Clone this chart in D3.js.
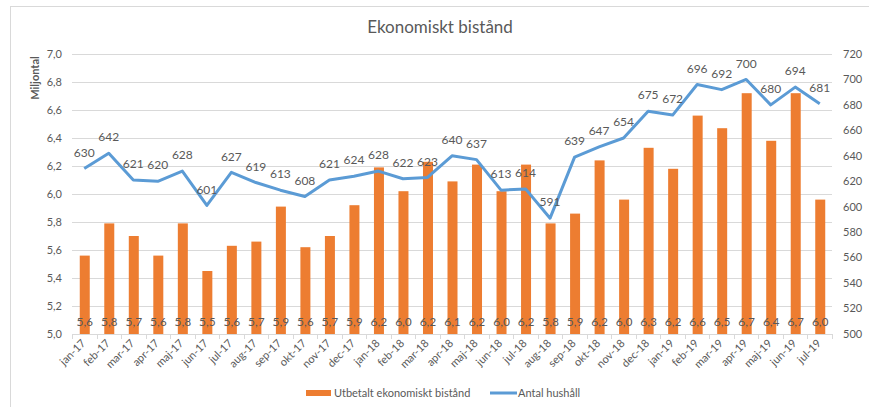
<!DOCTYPE html>
<html>
<head>
<meta charset="utf-8">
<script src="https://cdn.jsdelivr.net/npm/d3@7"></script>
<style>
  body { margin: 0; background: #fff; }
  svg { font-family: Lato, "Open Sans", sans-serif; }
</style>
</head>
<body>
<div id="chart"></div>
<script>
// months on the x axis
const months = ["jan-17","feb-17","mar-17","apr-17","maj-17","jun-17","jul-17","aug-17","sep-17","okt-17","nov-17","dec-17",
  "jan-18","feb-18","mar-18","apr-18","maj-18","jun-18","jul-18","aug-18","sep-18","okt-18","nov-18","dec-18",
  "jan-19","feb-19","mar-19","apr-19","maj-19","jun-19","jul-19"];
// Utbetalt ekonomiskt bistånd (miljontal)
const payout = [5.56,5.79,5.70,5.56,5.79,5.45,5.63,5.66,5.91,5.62,5.70,5.92,
  6.19,6.02,6.23,6.09,6.21,6.02,6.21,5.79,5.86,6.24,5.96,6.33,
  6.18,6.56,6.47,6.72,6.38,6.72,5.96];
// Antal hushåll
const households = [630,642,621,620,628,601,627,619,613,608,621,624,
  628,622,623,640,637,613,614,591,639,647,654,675,
  672,696,692,700,680,694,681];
const leftTicks = [5.0,5.2,5.4,5.6,5.8,6.0,6.2,6.4,6.6,6.8,7.0];
const rightTicks = [500,520,540,560,580,600,620,640,660,680,700,720];

const W = 869, H = 407;
const plotL = 72, plotR = 832, plotT = 54, plotB = 334;
const textCol = "#595959";
const comma = d => d.toFixed(1).replace(".", ",");

const svg = d3.select("#chart").append("svg")
  .attr("width", W).attr("height", H);

// outer frame
svg.append("rect")
  .attr("x", 10.5).attr("y", 6.5).attr("width", 900).attr("height", 500)
  .attr("fill", "none").attr("stroke", "#d9d9d9");

const x = d3.scaleBand().domain(months).range([plotL, plotR]);
const yL = d3.scaleLinear().domain([5, 7]).range([plotB, plotT]);
const yR = d3.scaleLinear().domain([500, 720]).range([plotB, plotT]);

// gridlines
svg.append("g").selectAll("line")
  .data(leftTicks.slice(1))
  .enter().append("line")
  .attr("x1", plotL).attr("x2", plotR)
  .attr("y1", d => Math.round(yL(d)) + 0.5).attr("y2", d => Math.round(yL(d)) + 0.5)
  .attr("stroke", "#d9d9d9");

// left axis labels
svg.append("g").selectAll("text")
  .data(leftTicks)
  .enter().append("text")
  .attr("x", 62).attr("y", d => yL(d)).attr("dy", "0.35em")
  .attr("text-anchor", "end").attr("font-size", 11).attr("fill", textCol)
  .text(comma);

// right axis labels
svg.append("g").selectAll("text")
  .data(rightTicks)
  .enter().append("text")
  .attr("x", 843).attr("y", d => yR(d)).attr("dy", "0.35em")
  .attr("font-size", 11).attr("fill", textCol)
  .text(d => d);

// bars
svg.append("g").selectAll("rect")
  .data(payout)
  .enter().append("rect")
  .attr("x", (d, i) => x(months[i]) + x.bandwidth() / 2 - 4.5)
  .attr("width", 10)
  .attr("y", d => yL(d))
  .attr("height", d => plotB - yL(d))
  .attr("fill", "#ed7d31");

// bar value labels
svg.append("g").selectAll("text")
  .data(payout)
  .enter().append("text")
  .attr("x", (d, i) => x(months[i]) + x.bandwidth() / 2 + 0.5)
  .attr("y", 322).attr("dy", "0.35em")
  .attr("text-anchor", "middle").attr("font-size", 12).attr("fill", textCol)
  .text(comma);

// x axis line and ticks
svg.append("line")
  .attr("x1", plotL).attr("x2", plotR)
  .attr("y1", plotB + 0.5).attr("y2", plotB + 0.5)
  .attr("stroke", "#d9d9d9");
svg.append("g").selectAll("line")
  .data(months.concat(["end"]))
  .enter().append("line")
  .attr("x1", (d, i) => Math.round(plotL + i * x.step()) + 0.5)
  .attr("x2", (d, i) => Math.round(plotL + i * x.step()) + 0.5)
  .attr("y1", plotB).attr("y2", plotB + 5)
  .attr("stroke", "#d9d9d9");

svg.append("g").selectAll("text")
  .data(months)
  .enter().append("text")
  .attr("transform", d => "translate(" + (x(d) + x.bandwidth() / 2 + 2) + "," + (plotB + 10) + ") rotate(-45)")
  .attr("text-anchor", "end").attr("font-size", 11).attr("fill", textCol)
  .text(d => d);

// households line
const line = d3.line()
  .x((d, i) => x(months[i]) + x.bandwidth() / 2)
  .y(d => yR(d));
svg.append("path")
  .datum(households)
  .attr("d", line)
  .attr("fill", "none").attr("stroke", "#5b9bd5")
  .attr("stroke-width", 3).attr("stroke-linejoin", "round");

svg.append("g").selectAll("text")
  .data(households)
  .enter().append("text")
  .attr("x", (d, i) => x(months[i]) + x.bandwidth() / 2)
  .attr("y", d => yR(d) - 16).attr("dy", "0.35em")
  .attr("text-anchor", "middle").attr("font-size", 12).attr("fill", textCol)
  .text(d => d);

// title
svg.append("text")
  .attr("x", 440).attr("y", 33)
  .attr("text-anchor", "middle").attr("font-size", 17).attr("fill", textCol)
  .text("Ekonomiskt bistånd");

// y axis title
svg.append("text")
  .attr("transform", "translate(39,78) rotate(-90)")
  .attr("text-anchor", "middle").attr("font-size", 11).attr("font-weight", "bold")
  .attr("fill", textCol)
  .text("Miljontal");

// legend
const lg = svg.append("g");
lg.append("rect").attr("x", 306).attr("y", 390).attr("width", 25).attr("height", 6).attr("fill", "#ed7d31");
lg.append("text").attr("x", 334).attr("y", 393).attr("dy", "0.35em")
  .attr("font-size", 11).attr("fill", textCol).text("Utbetalt ekonomiskt bistånd");
lg.append("line").attr("x1", 490).attr("x2", 517).attr("y1", 393).attr("y2", 393)
  .attr("stroke", "#5b9bd5").attr("stroke-width", 3);
lg.append("text").attr("x", 518).attr("y", 393).attr("dy", "0.35em")
  .attr("font-size", 11).attr("fill", textCol).text("Antal hushåll");
</script>
</body>
</html>
